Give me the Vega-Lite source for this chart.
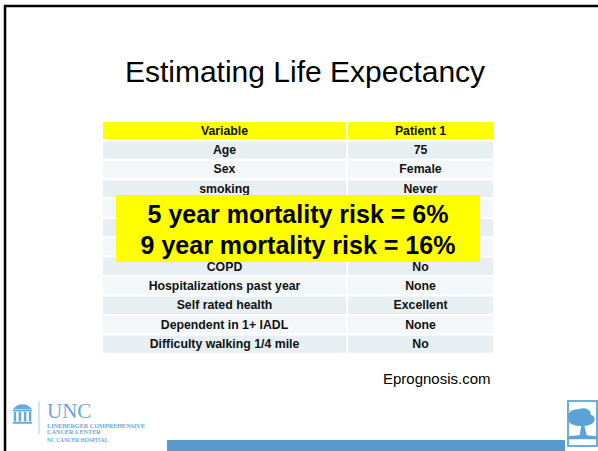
{
  "$schema": "https://vega.github.io/schema/vega-lite/v6.json",
  "width": 598,
  "height": 451,
  "padding": 0,
  "autosize": {"type": "none"},
  "background": "white",
  "config": {"view": {"stroke": null}},
  "data": {"values": [
    {"row": 0, "variable": "Variable", "patient1": "Patient 1"},
    {"row": 1, "variable": "Age", "patient1": "75"},
    {"row": 2, "variable": "Sex", "patient1": "Female"},
    {"row": 3, "variable": "smoking", "patient1": "Never"},
    {"row": 4, "variable": "", "patient1": ""},
    {"row": 5, "variable": "", "patient1": ""},
    {"row": 6, "variable": "", "patient1": ""},
    {"row": 7, "variable": "COPD", "patient1": "No"},
    {"row": 8, "variable": "Hospitalizations past year", "patient1": "None"},
    {"row": 9, "variable": "Self rated health", "patient1": "Excellent"},
    {"row": 10, "variable": "Dependent in 1+ IADL", "patient1": "None"},
    {"row": 11, "variable": "Difficulty walking 1/4 mile", "patient1": "No"}
  ]},
  "transform": [
    {"calculate": "datum.row + 1", "as": "rowEnd"},
    {"calculate": "datum.row + 0.5", "as": "mid"}
  ],
  "layer": [
    {
      "mark": {"type": "rect", "stroke": "white", "strokeWidth": 2},
      "encoding": {
        "x": {"datum": 0, "type": "quantitative", "scale": {"domain": [-0.2602, 1.2653], "nice": false, "zero": false}, "axis": null},
        "x2": {"datum": 0.625},
        "y": {"field": "row", "type": "quantitative", "scale": {"domain": [-6.2371, 17.0103], "nice": false, "zero": false, "reverse": true}, "axis": null},
        "y2": {"field": "rowEnd"},
        "fill": {"condition": [{"test": "datum.row == 0", "value": "#FFFF00"}, {"test": "datum.row % 2 == 1", "value": "#E7EFF2"}], "value": "#F3F7F9"}
      }
    },
    {
      "mark": {"type": "rect", "stroke": "white", "strokeWidth": 2},
      "encoding": {
        "x": {"datum": 0.625, "type": "quantitative"},
        "x2": {"datum": 1},
        "y": {"field": "row", "type": "quantitative"},
        "y2": {"field": "rowEnd"},
        "fill": {"condition": [{"test": "datum.row == 0", "value": "#FFFF00"}, {"test": "datum.row % 2 == 1", "value": "#E7EFF2"}], "value": "#F3F7F9"}
      }
    },
    {
      "mark": {"type": "text", "font": "Liberation Sans", "fontWeight": "bold", "fontSize": 12.3, "baseline": "middle", "align": "center", "color": "#111111"},
      "encoding": {
        "x": {"datum": 0.3125, "type": "quantitative"},
        "y": {"field": "mid", "type": "quantitative"},
        "text": {"field": "variable"}
      }
    },
    {
      "mark": {"type": "text", "font": "Liberation Sans", "fontWeight": "bold", "fontSize": 12.3, "baseline": "middle", "align": "center", "color": "#111111"},
      "encoding": {
        "x": {"datum": 0.8125, "type": "quantitative"},
        "y": {"field": "mid", "type": "quantitative"},
        "text": {"field": "patient1"}
      }
    },
    {
      "data": {"values": [{}]},
      "mark": {"type": "rect", "fill": "#FFFF00"},
      "encoding": {
        "x": {"datum": 0.0357, "type": "quantitative"},
        "x2": {"datum": 0.9643},
        "y": {"datum": 3.814, "type": "quantitative"},
        "y2": {"datum": 7.268}
      }
    },
    {
      "data": {"values": [{"label": "5 year mortality risk = 6%"}]},
      "mark": {"type": "text", "font": "Liberation Sans", "fontWeight": "bold", "fontSize": 25, "baseline": "alphabetic", "align": "center", "color": "#000000"},
      "encoding": {
        "x": {"datum": 0.5, "type": "quantitative"},
        "y": {"datum": 5.258, "type": "quantitative"},
        "text": {"field": "label"}
      }
    },
    {
      "data": {"values": [{"label": "9 year mortality risk = 16%"}]},
      "mark": {"type": "text", "font": "Liberation Sans", "fontWeight": "bold", "fontSize": 25, "baseline": "alphabetic", "align": "center", "color": "#000000"},
      "encoding": {
        "x": {"datum": 0.5, "type": "quantitative"},
        "y": {"datum": 6.856, "type": "quantitative"},
        "text": {"field": "label"}
      }
    },
    {
      "data": {"values": [{"label": "Estimating Life Expectancy"}]},
      "mark": {"type": "text", "font": "Liberation Sans", "fontSize": 30, "baseline": "alphabetic", "align": "center", "color": "#000000"},
      "encoding": {
        "x": {"datum": 0.5179, "type": "quantitative"},
        "y": {"datum": -2.01, "type": "quantitative"},
        "text": {"field": "label"}
      }
    },
    {
      "data": {"values": [{"label": "Eprognosis.com"}]},
      "mark": {"type": "text", "font": "Liberation Sans", "fontSize": 15, "baseline": "alphabetic", "align": "left", "color": "#000000"},
      "encoding": {
        "x": {"datum": 0.7168, "type": "quantitative"},
        "y": {"datum": 13.557, "type": "quantitative"},
        "text": {"field": "label"}
      }
    },
    {
      "data": {"values": [{}]},
      "mark": {"type": "rule", "color": "#000000", "strokeWidth": 2.5},
      "encoding": {
        "x": {"datum": -0.2500, "type": "quantitative"},
        "x2": {"datum": 1.2653},
        "y": {"datum": -5.928, "type": "quantitative"}
      }
    },
    {
      "data": {"values": [{}]},
      "mark": {"type": "rule", "color": "#000000", "strokeWidth": 2.5},
      "encoding": {
        "x": {"datum": -0.2474, "type": "quantitative"},
        "y": {"datum": -5.979, "type": "quantitative"},
        "y2": {"datum": 17.0103}
      }
    },
    {
      "data": {"values": [{}]},
      "mark": {"type": "rect", "fill": "#5A99CB"},
      "encoding": {
        "x": {"datum": 0.1658, "type": "quantitative"},
        "x2": {"datum": 1.1811},
        "y": {"datum": 16.443, "type": "quantitative"},
        "y2": {"datum": 17.0103}
      }
    },
    {
      "data": {"values": [{}]},
      "mark": {"type": "rect", "fill": "white", "stroke": "#6AAEDD", "strokeWidth": 2},
      "encoding": {
        "x": {"datum": 1.1888, "type": "quantitative"},
        "x2": {"datum": 1.2628},
        "y": {"datum": 14.433, "type": "quantitative"},
        "y2": {"datum": 16.753}
      }
    },
    {
      "data": {"values": [{}]},
      "mark": {"type": "point", "filled": true, "opacity": 1, "size": 1000, "color": "#5BA3D6", "shape": "M-0.15,0.75 L-0.05,0.15 C-0.55,0.2 -0.95,-0.05 -0.85,-0.35 C-1,-0.65 -0.6,-0.95 -0.2,-0.9 C0.1,-1.05 0.6,-0.9 0.55,-0.55 C0.95,-0.45 0.85,0 0.45,0.1 C0.3,0.15 0.2,0.15 0.15,0.15 L0.3,0.75 L0.9,0.8 L0.9,1 L-0.95,1 L-0.95,0.8 Z"},
      "encoding": {
        "x": {"datum": 1.2245, "type": "quantitative"},
        "y": {"datum": 15.593, "type": "quantitative"}
      }
    },
    {
      "data": {"values": [{}]},
      "mark": {"type": "point", "filled": true, "opacity": 1, "size": 380, "color": "#6AA8DA", "shape": "M-1,-0.45 Q-0.6,-1 0,-1 Q0.6,-1 1,-0.45 Z M-1,-0.4 H1 V-0.25 H-1 Z M-0.9,-0.2 H-0.65 V0.75 H-0.9 Z M-0.4,-0.2 H-0.15 V0.75 H-0.4 Z M0.15,-0.2 H0.4 V0.75 H0.15 Z M0.65,-0.2 H0.9 V0.75 H0.65 Z M-1,0.8 H1 V1 H-1 Z"},
      "encoding": {
        "x": {"datum": -0.2028, "type": "quantitative"},
        "y": {"datum": 15.103, "type": "quantitative"}
      }
    },
    {
      "data": {"values": [{}]},
      "mark": {"type": "rule", "color": "#A8CCE8", "strokeWidth": 1},
      "encoding": {
        "x": {"datum": -0.1607, "type": "quantitative"},
        "y": {"datum": 14.433, "type": "quantitative"},
        "y2": {"datum": 16.134}
      }
    },
    {
      "data": {"values": [{"label": "UNC"}]},
      "mark": {"type": "text", "font": "Liberation Serif", "fontSize": 21, "baseline": "alphabetic", "align": "left", "color": "#6AA8DA"},
      "encoding": {
        "x": {"datum": -0.1403, "type": "quantitative"},
        "y": {"datum": 15.309, "type": "quantitative"},
        "text": {"field": "label"}
      }
    },
    {
      "data": {"values": [{"label": "LINEBERGER COMPREHENSIVE"}]},
      "mark": {"type": "text", "font": "Liberation Serif", "fontWeight": "bold", "fontSize": 6.2, "baseline": "alphabetic", "align": "left", "color": "#6AA8DA"},
      "encoding": {
        "x": {"datum": -0.1403, "type": "quantitative"},
        "y": {"datum": 15.825, "type": "quantitative"},
        "text": {"field": "label"}
      }
    },
    {
      "data": {"values": [{"label": "CANCER CENTER"}]},
      "mark": {"type": "text", "font": "Liberation Serif", "fontWeight": "bold", "fontSize": 6.2, "baseline": "alphabetic", "align": "left", "color": "#6AA8DA"},
      "encoding": {
        "x": {"datum": -0.1403, "type": "quantitative"},
        "y": {"datum": 16.134, "type": "quantitative"},
        "text": {"field": "label"}
      }
    },
    {
      "data": {"values": [{"label": "NC CANCER HOSPITAL"}]},
      "mark": {"type": "text", "font": "Liberation Serif", "fontWeight": "bold", "fontSize": 5.4, "baseline": "alphabetic", "align": "left", "color": "#6AA8DA"},
      "encoding": {
        "x": {"datum": -0.1403, "type": "quantitative"},
        "y": {"datum": 16.546, "type": "quantitative"},
        "text": {"field": "label"}
      }
    }
  ]
}
